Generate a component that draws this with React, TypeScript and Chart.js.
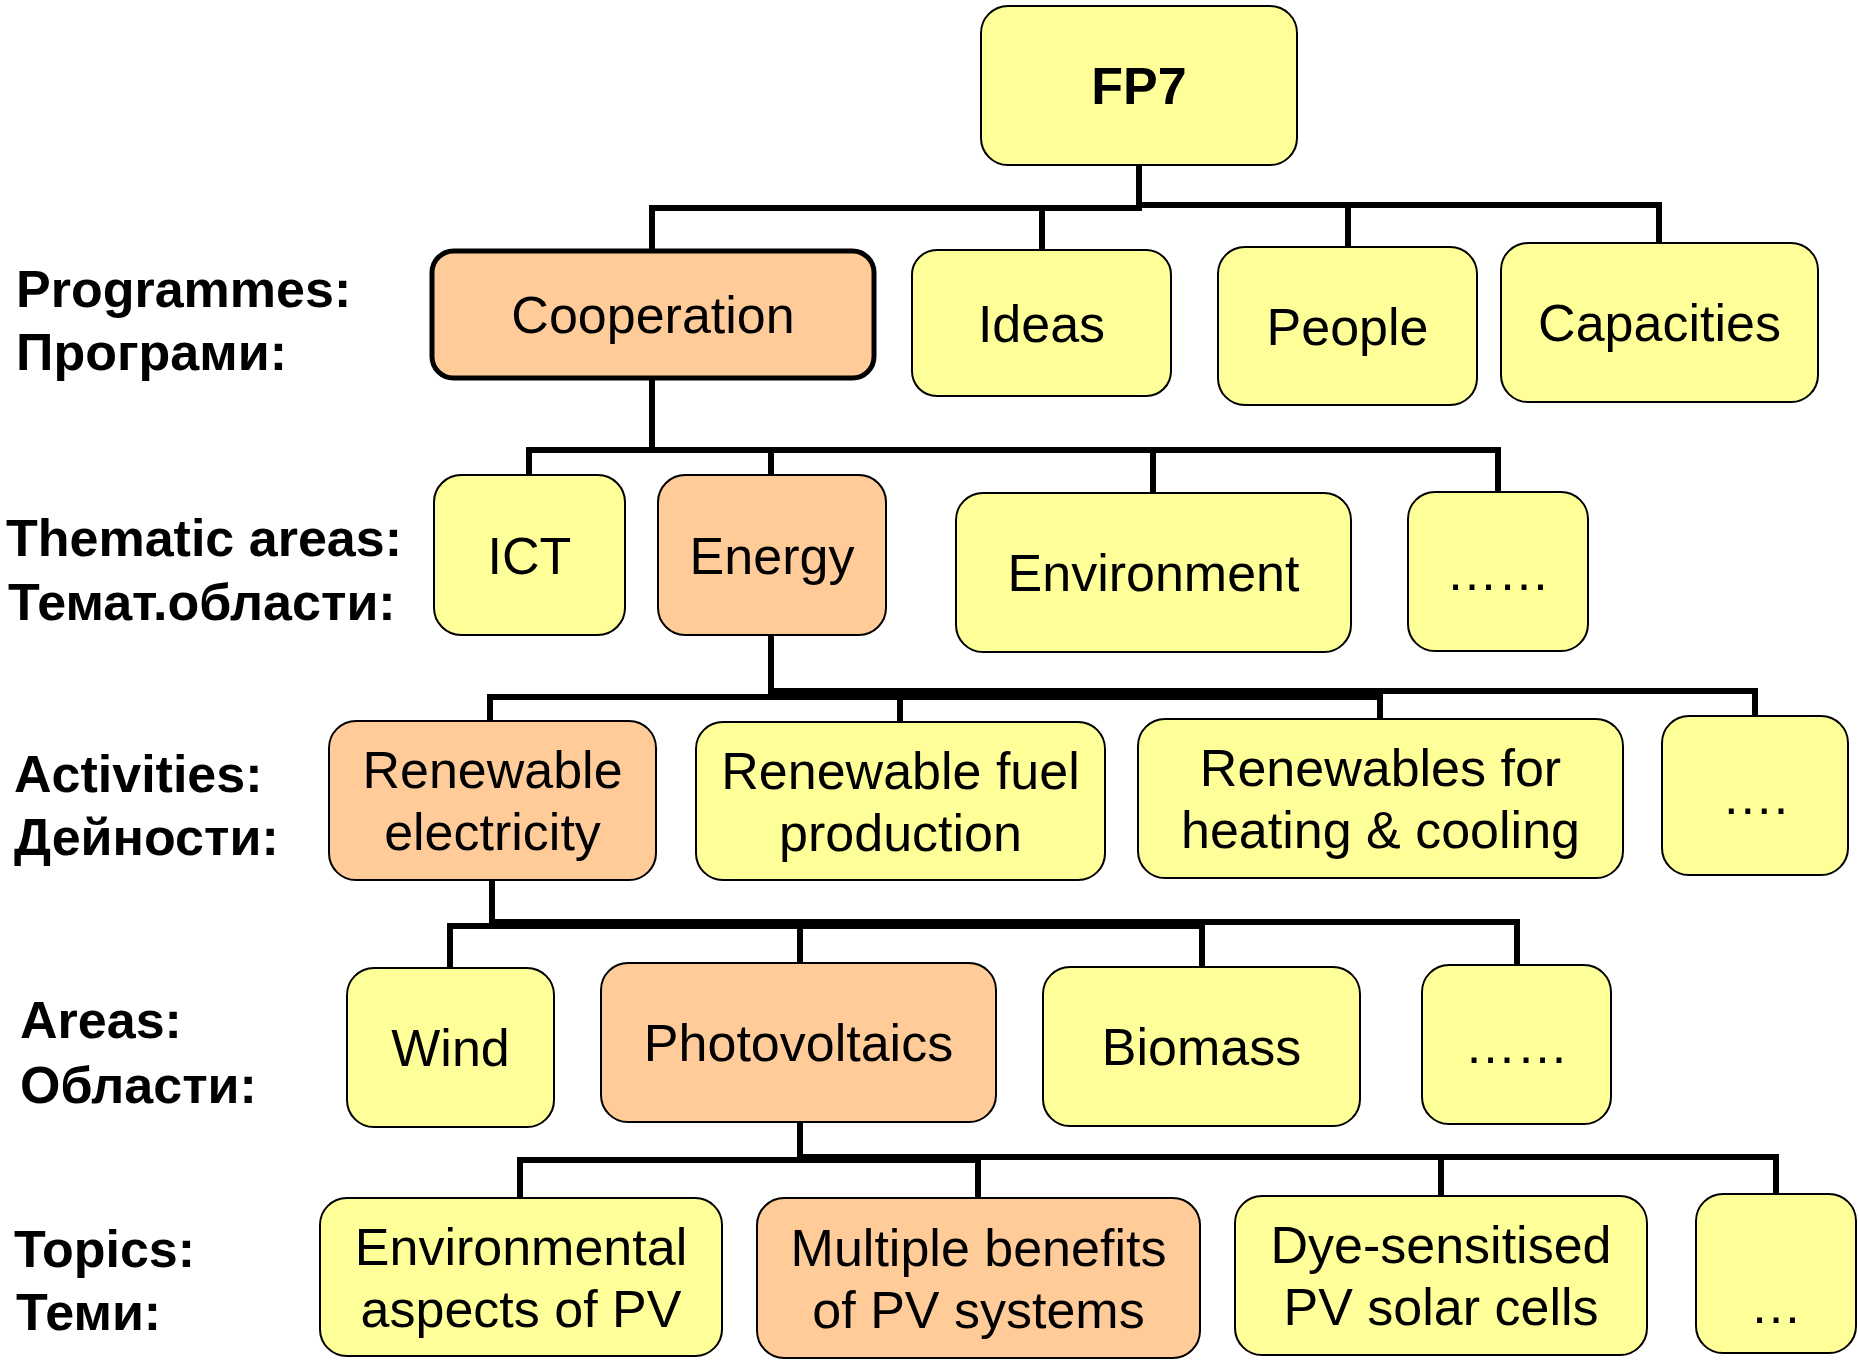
import React, { useEffect, useRef } from "react";
import { Chart, registerables } from "chart.js";

Chart.register(...registerables);

// ---- Diagram data (in picture units, mapped through the chart's linear scales) ----
const nodeLabels = [
  "FP7",
  "Cooperation", "Ideas", "People", "Capacities",
  "ICT", "Energy", "Environment", "……",
  "Renewable\nelectricity", "Renewable fuel\nproduction", "Renewables for\nheating & cooling", "….",
  "Wind", "Photovoltaics", "Biomass", "……",
  "Environmental\naspects of PV", "Multiple benefits\nof PV systems", "Dye-sensitised\nPV solar cells", "\n…",
];
const nodeX1 = [981, 432, 912, 1218, 1501, 434, 658, 956, 1408, 329, 696, 1138, 1662, 347, 601, 1043, 1422, 320, 757, 1235, 1696];
const nodeX2 = [1297, 874, 1171, 1477, 1818, 625, 886, 1351, 1588, 656, 1105, 1623, 1848, 554, 996, 1360, 1611, 722, 1200, 1647, 1856];
const nodeY1 = [6, 251, 250, 247, 243, 475, 475, 493, 492, 721, 722, 719, 716, 968, 963, 967, 965, 1198, 1198, 1196, 1194];
const nodeY2 = [165, 378, 396, 405, 402, 635, 635, 652, 651, 880, 880, 878, 875, 1127, 1122, 1126, 1124, 1356, 1358, 1355, 1353];
const nodeHighlight = [false, true, false, false, false, false, true, false, false, true, false, false, false, false, true, false, false, false, true, false, false];
const nodeBold = [true, false, false, false, false, false, false, false, false, false, false, false, false, false, false, false, false, false, false, false, false];
const nodeThickBorder = [false, true, false, false, false, false, false, false, false, false, false, false, false, false, false, false, false, false, false, false, false];

const stemX = [1139, 652, 1042, 1348, 1659, 652, 529, 771, 1153, 1498, 771, 490, 900, 1380, 1755, 492, 450, 800, 1202, 1517, 800, 520, 978, 1441, 1776];
const stemY1 = [165, 208, 208, 205, 205, 378, 450, 450, 450, 450, 635, 697, 697, 691, 691, 880, 926, 922, 922, 922, 1122, 1160, 1157, 1157, 1157];
const stemY2 = [208, 251, 250, 247, 243, 450, 475, 475, 493, 492, 697, 721, 722, 719, 716, 926, 968, 963, 967, 965, 1160, 1198, 1198, 1196, 1194];

const busY = [208, 205, 450, 697, 691, 926, 922, 1160, 1157];
const busX1 = [652, 1139, 529, 490, 771, 450, 492, 520, 800];
const busX2 = [1139, 1659, 1498, 1380, 1755, 1202, 1517, 978, 1776];

const rowLabels = [
  "Programmes:", "Програми:",
  "Thematic areas:", "Темат.области:",
  "Activities:", "Дейности:",
  "Areas:", "Области:",
  "Topics:", "Теми:",
];
const rowLabelX = [16, 16, 6, 8, 14, 14, 20, 20, 14, 16];
const rowLabelY = [307, 370, 556, 620, 792, 855, 1038, 1103, 1267, 1330];

const FONT = '"Liberation Sans", Arial, Helvetica, sans-serif';
const FILL_YELLOW = "#FFFF99";
const FILL_ORANGE = "#FFCC99";

function roundRectPath(ctx: CanvasRenderingContext2D, x: number, y: number, w: number, h: number, r: number) {
  ctx.beginPath();
  ctx.moveTo(x + r, y);
  ctx.lineTo(x + w - r, y);
  ctx.arcTo(x + w, y, x + w, y + r, r);
  ctx.lineTo(x + w, y + h - r);
  ctx.arcTo(x + w, y + h, x + w - r, y + h, r);
  ctx.lineTo(x + r, y + h);
  ctx.arcTo(x, y + h, x, y + h - r, r);
  ctx.lineTo(x, y + r);
  ctx.arcTo(x, y, x + r, y, r);
  ctx.closePath();
}

const diagramPlugin = {
  id: "fp7Diagram",
  afterDatasetsDraw(chart: any) {
    const ctx: CanvasRenderingContext2D = chart.ctx;
    const xs = chart.scales.x;
    const ys = chart.scales.y;
    const px = (v: number) => xs.getPixelForValue(v);
    const py = (v: number) => ys.getPixelForValue(v);
    ctx.save();

    // connectors
    ctx.strokeStyle = "#000";
    ctx.lineWidth = 6;
    ctx.lineCap = "square";
    for (let i = 0; i < stemX.length; i++) {
      ctx.beginPath();
      ctx.moveTo(px(stemX[i]), py(stemY1[i]));
      ctx.lineTo(px(stemX[i]), py(stemY2[i]));
      ctx.stroke();
    }
    for (let i = 0; i < busY.length; i++) {
      ctx.beginPath();
      ctx.moveTo(px(busX1[i]), py(busY[i]));
      ctx.lineTo(px(busX2[i]), py(busY[i]));
      ctx.stroke();
    }

    // boxes
    for (let i = 0; i < nodeLabels.length; i++) {
      const x1 = px(nodeX1[i]);
      const x2 = px(nodeX2[i]);
      const y1 = py(nodeY1[i]);
      const y2 = py(nodeY2[i]);
      const w = x2 - x1;
      const h = y2 - y1;
      const r = Math.min(w, h) * 0.17;
      roundRectPath(ctx, x1, y1, w, h, r);
      ctx.fillStyle = nodeHighlight[i] ? FILL_ORANGE : FILL_YELLOW;
      ctx.fill();
      ctx.lineWidth = nodeThickBorder[i] ? 5 : 2;
      ctx.strokeStyle = "#000";
      ctx.stroke();

      // text
      const lines = nodeLabels[i].split("\n");
      const cx = (x1 + x2) / 2;
      const cy = (y1 + y2) / 2;
      const lh = 62;
      ctx.fillStyle = "#000";
      ctx.textAlign = "center";
      ctx.textBaseline = "alphabetic";
      ctx.font = `${nodeBold[i] ? "bold " : ""}52px ${FONT}`;
      lines.forEach((ln, k) => {
        const base = cy + 18.5 + (k - (lines.length - 1) / 2) * lh;
        if (ln) ctx.fillText(ln, cx, base);
      });
    }

    // row labels
    ctx.textAlign = "left";
    ctx.textBaseline = "alphabetic";
    ctx.font = `bold 52px ${FONT}`;
    ctx.fillStyle = "#000";
    for (let i = 0; i < rowLabels.length; i++) {
      ctx.fillText(rowLabels[i], px(rowLabelX[i]), py(rowLabelY[i]));
    }

    ctx.restore();
  },
};

export default function App() {
  const canvasRef = useRef<HTMLCanvasElement | null>(null);

  useEffect(() => {
    document.body.style.margin = "0";
    const canvas = canvasRef.current;
    if (!canvas) return;
    const points = nodeLabels.map((_, i) => ({
      x: (nodeX1[i] + nodeX2[i]) / 2,
      y: (nodeY1[i] + nodeY2[i]) / 2,
    }));
    const chart = new Chart(canvas, {
      type: "scatter",
      data: {
        datasets: [
          {
            label: "nodes",
            data: points,
            pointRadius: 0,
            pointHoverRadius: 0,
          },
        ],
      },
      options: {
        animation: false,
        responsive: false,
        maintainAspectRatio: false,
        devicePixelRatio: 1,
        layout: { padding: 0 },
        events: [],
        plugins: {
          legend: { display: false },
          tooltip: { enabled: false },
          title: { display: false },
        },
        scales: {
          x: { type: "linear", min: 0, max: 1858, display: false },
          y: { type: "linear", min: 0, max: 1360, reverse: true, display: false },
        },
      },
      plugins: [diagramPlugin],
    });
    return () => chart.destroy();
  }, []);

  return (
    <div style={{ width: 1858, height: 1360, background: "#fff" }}>
      <canvas ref={canvasRef} width={1858} height={1360} style={{ display: "block" }} />
    </div>
  );
}
